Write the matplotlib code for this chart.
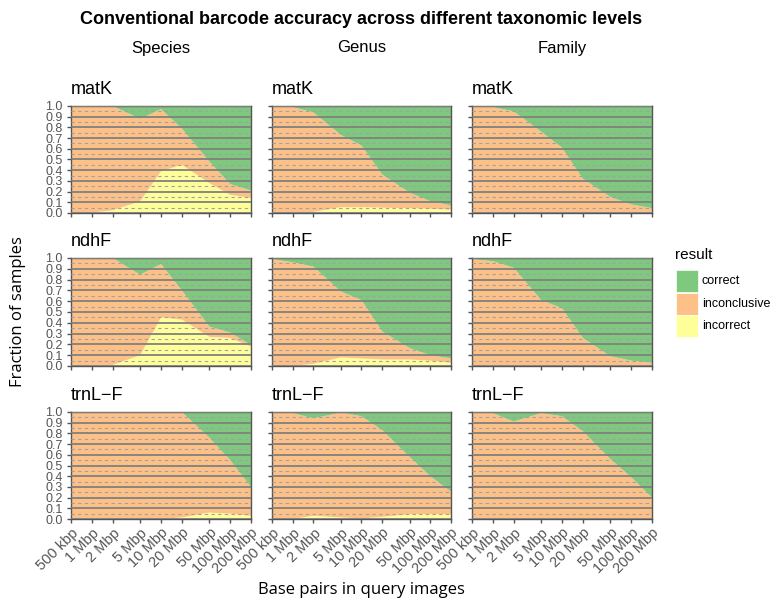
import numpy as np
import matplotlib.pyplot as plt
from matplotlib.patches import Rectangle
from matplotlib.ticker import FixedLocator, NullLocator, FormatStrFormatter, NullFormatter

plt.rcParams['font.family'] = ['Liberation Sans', 'DejaVu Sans']

# Query sizes (bp) and their labels
bp = [5e5, 1e6, 2e6, 5e6, 1e7, 2e7, 5e7, 1e8, 2e8]
bp_labels = ['500 kbp', '1 Mbp', '2 Mbp', '5 Mbp', '10 Mbp', '20 Mbp', '50 Mbp', '100 Mbp', '200 Mbp']

levels = ['Species', 'Genus', 'Family']
genes = ['matK', 'ndhF', 'trnL\u2212F']

# Fraction correct / incorrect per level and barcode (rest is inconclusive)
species_matK_correct = [0.0, 0.0, 0.0, 0.12, 0.03, 0.21, 0.52, 0.73, 0.79]
species_matK_incorrect = [0.0, 0.005, 0.025, 0.11, 0.39, 0.45, 0.28, 0.17, 0.14]
genus_matK_correct = [0.0, 0.01, 0.06, 0.27, 0.37, 0.64, 0.81, 0.89, 0.93]
genus_matK_incorrect = [0.0, 0.0, 0.01, 0.055, 0.055, 0.05, 0.045, 0.04, 0.03]
family_matK_correct = [0.0, 0.01, 0.05, 0.24, 0.39, 0.68, 0.85, 0.92, 0.955]
family_matK_incorrect = [0.0] * 9

species_ndhF_correct = [0.0, 0.0, 0.0, 0.155, 0.056, 0.30, 0.635, 0.69, 0.805]
species_ndhF_incorrect = [0.0, 0.0, 0.01, 0.10, 0.45, 0.43, 0.27, 0.26, 0.18]
genus_ndhF_correct = [0.01, 0.04, 0.08, 0.31, 0.39, 0.68, 0.835, 0.90, 0.93]
genus_ndhF_incorrect = [0.0, 0.0, 0.02, 0.08, 0.07, 0.06, 0.06, 0.05, 0.03]
family_ndhF_correct = [0.01, 0.03, 0.09, 0.39, 0.465, 0.74, 0.91, 0.95, 0.97]
family_ndhF_incorrect = [0.0] * 9

species_trnLF_correct = [0.0, 0.0, 0.0, 0.0, 0.0, 0.0, 0.24, 0.45, 0.70]
species_trnLF_incorrect = [0.0, 0.0, 0.0, 0.0, 0.0, 0.015, 0.06, 0.05, 0.03]
genus_trnLF_correct = [0.0, 0.01, 0.06, 0.005, 0.04, 0.17, 0.42, 0.60, 0.745]
genus_trnLF_incorrect = [0.0, 0.0, 0.03, 0.015, 0.005, 0.02, 0.045, 0.045, 0.045]
family_trnLF_correct = [0.0, 0.01, 0.09, 0.01, 0.04, 0.18, 0.44, 0.61, 0.80]
family_trnLF_incorrect = [0.0] * 9

panels = [
    [(species_matK_correct, species_matK_incorrect),
     (genus_matK_correct, genus_matK_incorrect),
     (family_matK_correct, family_matK_incorrect)],
    [(species_ndhF_correct, species_ndhF_incorrect),
     (genus_ndhF_correct, genus_ndhF_incorrect),
     (family_ndhF_correct, family_ndhF_incorrect)],
    [(species_trnLF_correct, species_trnLF_incorrect),
     (genus_trnLF_correct, genus_trnLF_incorrect),
     (family_trnLF_correct, family_trnLF_incorrect)],
]

results = ['correct', 'inconclusive', 'incorrect']
colors = {'correct': '#7fc97f', 'inconclusive': '#fdc086', 'incorrect': '#ffff99'}

W, H = 778, 602
fig = plt.figure(figsize=(W / 100, H / 100), dpi=100)


def fx(x):
    return x / W


def fy(y):
    return 1 - y / H


col_x = [(71, 251), (272, 451), (472, 652)]
row_y = [(106, 213), (258, 366), (412, 519)]
tick_grey = '#555555'
yticks = np.round(np.arange(0, 1.01, 0.1), 1)

for r, gene in enumerate(genes):
    for c, level in enumerate(levels):
        x0, x1 = col_x[c]
        y0, y1 = row_y[r]
        ax = fig.add_axes([fx(x0), fy(y1), (x1 - x0) / W, (y1 - y0) / H])
        correct = np.array(panels[r][c][0])
        incorrect = np.array(panels[r][c][1])
        inconclusive = 1 - correct - incorrect
        ax.stackplot(bp, incorrect, inconclusive, correct,
                     colors=[colors['incorrect'], colors['inconclusive'], colors['correct']],
                     linewidth=0)
        ax.set_xscale('log')
        ax.set_xlim(5e5, 2e8)
        ax.set_ylim(0, 1)
        ax.xaxis.set_major_locator(FixedLocator(bp))
        ax.xaxis.set_minor_locator(NullLocator())
        ax.xaxis.set_minor_formatter(NullFormatter())
        ax.yaxis.set_major_locator(FixedLocator(yticks))
        ax.yaxis.set_minor_locator(FixedLocator(yticks[:-1] + 0.05))
        ax.set_axisbelow(False)
        ax.grid(True, axis='y', which='major', color='#808080', linewidth=1.3)
        ax.grid(True, axis='y', which='minor', color='#a0a0aa', linewidth=0.8,
                linestyle=(0, (3, 3)))
        ax.tick_params(axis='both', which='major', length=3, width=1,
                       color='#555555', labelcolor=tick_grey)
        ax.tick_params(axis='y', which='major', pad=3)
        ax.tick_params(axis='x', which='major', pad=2)
        ax.tick_params(axis='y', which='minor', length=0)
        for s in ax.spines.values():
            s.set_color('#555555')
            s.set_linewidth(1)
        if c == 0:
            ax.yaxis.set_major_formatter(FormatStrFormatter('%.1f'))
            ax.tick_params(axis='y', labelsize=9)
        else:
            ax.yaxis.set_major_formatter(NullFormatter())
        if r == 2:
            ax.set_xticklabels(bp_labels, rotation=45, ha='right',
                               rotation_mode='anchor', fontsize=10.5)
        else:
            ax.xaxis.set_major_formatter(NullFormatter())
        fig.text(fx(x0), fy(y0 - 8), gene, fontsize=13, ha='left', va='bottom')

for c, level in enumerate(levels):
    fig.text(fx(sum(col_x[c]) / 2), fy(48), level, fontsize=12, ha='center', va='center')

fig.text(fx(361), fy(20), 'Conventional barcode accuracy across different taxonomic levels',
         fontsize=13, fontweight='bold', ha='center', va='center')
fig.text(fx(361), fy(590), 'Base pairs in query images', fontsize=12,
         ha='center', va='center', family=['Open Sans', 'DejaVu Sans'])
fig.text(fx(18), fy(312), 'Fraction of samples', fontsize=12, rotation=90,
         ha='center', va='center', family=['Open Sans', 'DejaVu Sans'])

# Legend drawn by hand
fig.text(fx(675), fy(255), 'result', fontsize=11, ha='left', va='center')
for i, res in enumerate(results):
    top = 270 + i * 22.5
    fig.patches.append(Rectangle((fx(676), fy(top + 22)), 22 / W, 22 / H,
                                 transform=fig.transFigure, facecolor=colors[res],
                                 edgecolor='white', linewidth=0.5))
    fig.text(fx(702), fy(top + 11), res, fontsize=9, ha='left', va='center')

fig.savefig('out.png', dpi=100)
